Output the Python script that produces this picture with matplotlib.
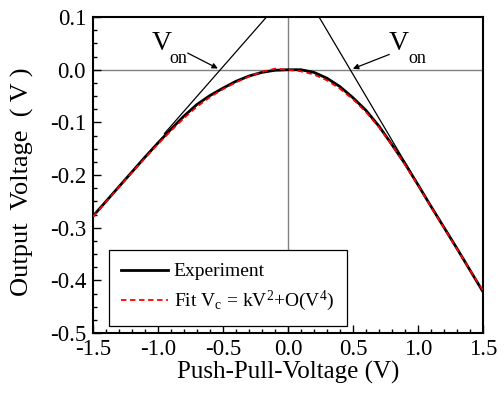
import numpy as np
import matplotlib
matplotlib.use('Agg')
import matplotlib.pyplot as plt
from matplotlib.ticker import MultipleLocator, FormatStrFormatter

plt.rcParams['font.family'] = ['Liberation Serif', 'DejaVu Serif']
plt.rcParams['mathtext.fontset'] = 'custom'
plt.rcParams['mathtext.rm'] = 'Liberation Serif'
plt.rcParams['mathtext.it'] = 'Liberation Serif:italic'
plt.rcParams['axes.unicode_minus'] = False

# Experiment curve
v_exp = [-1.5, -1.4, -1.3, -1.2, -1.1, -1.0, -0.9, -0.8, -0.7, -0.6, -0.5,
         -0.4, -0.3, -0.2, -0.1, 0.0, 0.1, 0.2, 0.3, 0.4, 0.5, 0.6, 0.7,
         0.8, 0.9, 1.0, 1.1, 1.2, 1.3, 1.4, 1.5]
out_exp = [-0.278, -0.250, -0.222, -0.194, -0.166, -0.139, -0.113, -0.088,
           -0.066, -0.049, -0.035, -0.022, -0.012, -0.005, -0.001, 0.0, 0.0,
           -0.005, -0.016, -0.032, -0.053, -0.077, -0.107, -0.142, -0.178,
           -0.218, -0.259, -0.299, -0.339, -0.380, -0.421]

# Fit curve
v_fit = v_exp
out_fit = [-0.279, -0.251, -0.223, -0.195, -0.168, -0.141, -0.116, -0.092,
           -0.070, -0.052, -0.037, -0.024, -0.013, -0.004, 0.002, 0.0, -0.003,
           -0.009, -0.020, -0.036, -0.056, -0.080, -0.109, -0.143, -0.180,
           -0.219, -0.260, -0.300, -0.340, -0.380, -0.419]

# Tangent lines (start, end) and V_on crossings
tan_left_v = [-0.165, -0.95]
tan_left_y = [0.1, -0.121]
tan_right_v = [0.24, 0.95]
tan_right_y = [0.1, -0.196]
von_left = -0.52
von_right = 0.48

fig = plt.figure(figsize=(5.04, 3.97), dpi=100)
ax = fig.add_axes([0.1845, 0.161, 0.7735, 0.796])

ax.axhline(0, color='#808080', lw=1.0, zorder=1)
ax.axvline(0, color='#808080', lw=1.0, zorder=1)

ax.plot(tan_left_v, tan_left_y, color='black', lw=0.9, zorder=2)
ax.plot(tan_right_v, tan_right_y, color='black', lw=0.9, zorder=2)

ax.plot(v_exp, out_exp, color='black', lw=2.0, label='Experiment', zorder=3)
ax.plot(v_fit, out_fit, color='red', lw=1.3, ls=(0, (3, 2)),
        label=r'Fit V$_\mathregular{c}$ = kV$^\mathregular{2}$+O(V$^\mathregular{4}$)',
        zorder=4)

# V_on annotations
ax.annotate('', xy=(von_left, 0.0), xytext=(-0.79, 0.034),
            arrowprops=dict(arrowstyle='-|>', color='black', lw=0.9,
                            mutation_scale=8))
ax.annotate('', xy=(von_right, 0.0), xytext=(0.80, 0.031),
            arrowprops=dict(arrowstyle='-|>', color='black', lw=0.9,
                            mutation_scale=8))
for xv, xs in [(-1.05, -0.91), (0.775, 0.925)]:
    ax.text(xv, 0.050, 'V', fontsize=20, va='center')
    ax.text(xs, 0.022, 'on', fontsize=13, va='center')

ax.set_xlim(-1.5, 1.5)
ax.set_ylim(-0.5, 0.1)
ax.xaxis.set_major_locator(MultipleLocator(0.5))
ax.xaxis.set_minor_locator(MultipleLocator(0.1))
ax.yaxis.set_major_locator(MultipleLocator(0.1))
ax.yaxis.set_minor_locator(MultipleLocator(0.025))
ax.xaxis.set_major_formatter(FormatStrFormatter('%.1f'))
ax.yaxis.set_major_formatter(FormatStrFormatter('%.1f'))
ax.tick_params(which='both', direction='in', top=False, right=False,
               labelsize=16.5, width=1.0)
ax.tick_params(which='major', length=6)
ax.tick_params(which='minor', length=3)
ax.tick_params(axis='y', pad=5)
ax.tick_params(axis='x', pad=4)
for s in ax.spines.values():
    s.set_linewidth(1.5)

ax.set_xlabel('Push-Pull-Voltage (V)', fontsize=18, labelpad=1)
ax.set_ylabel('Output  Voltage  ( V )', fontsize=19)
ax.yaxis.set_label_coords(-0.152, 0.48)

leg = ax.legend(loc='lower left', bbox_to_anchor=(0.04, 0.022), fontsize=14,
                frameon=True, fancybox=False, edgecolor='black',
                handlelength=2.4, handletextpad=0.3, borderpad=0.65,
                labelspacing=0.45, borderaxespad=0)
leg.get_frame().set_linewidth(0.9)
leg.get_frame().set_alpha(1)

fig.savefig('out.png', dpi=100)
